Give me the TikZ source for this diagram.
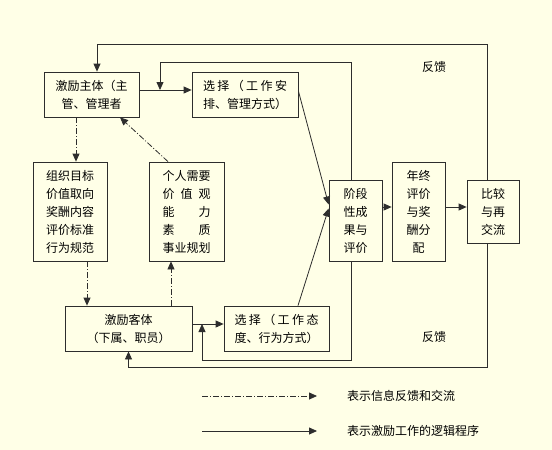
\documentclass[tikz,border=0pt]{standalone}
\usepackage{fontspec}
\newfontfamily\cjk{Noto Sans CJK SC}
\usetikzlibrary{arrows.meta,positioning}
\definecolor{paper}{RGB}{255,255,231}
\definecolor{ink}{RGB}{45,45,45}
\newcommand{\kai}[2]{\makebox[#1]{#2}}  % spread one line over a fixed width

\tikzset{
    box/.style={draw=ink, line width=0.8pt, inner sep=0pt, align=center,
        font=\cjk\fontsize{12}{18}\selectfont},
    lbl/.style={inner sep=0pt, font=\cjk\fontsize{12}{18}\selectfont},
    flow/.style={draw=ink, line width=0.8pt, -{Triangle[length=8pt,width=7pt]}},
    info/.style={flow, dash pattern=on 6pt off 2pt on 1pt off 2pt},
}

\begin{document}
\begin{tikzpicture}[x=1pt, y=-1pt]
    % Page and background
    \fill[paper] (0,0) rectangle (552,450);
    \useasboundingbox (0,0) rectangle (552,450);
    % Upper row
    \node[box, minimum width=95pt, minimum height=45pt] (zhuti) at (91.5,94.5)
        {激励主体（主\\管、管理者};
    \node[box, minimum width=106pt, minimum height=45pt] (anpai) at (245,94.5)
        {\kai{7em}{选\hfill 择\hfill （\hfill 工\hfill 作\hfill 安}\\排、管理方式）};
    % Middle row
    \node[box, minimum width=74pt, minimum height=99pt] (mubiao) at (70,211.5)
        {组织目标\\价值取向\\奖酬内容\\评价标准\\行为规范};
    \node[box, minimum width=75pt, minimum height=99pt] (xuqiu) at (186.5,211.5)
        {个人需要\\\kai{4em}{价\hfill 值\hfill 观}\\\kai{4em}{能\hfill 力}\\\kai{4em}{素\hfill 质}\\事业规划};
    % Lower row
    \node[box, minimum width=127pt, minimum height=45pt] (keti) at (128.5,328.5)
        {激励客体\\（下属、职员）};
    \node[box, minimum width=105pt, minimum height=45pt] (taidu) at (276.5,328.5)
        {\kai{7em}{选\hfill 择\hfill （\hfill 工\hfill 作\hfill 态}\\度、行为方式）};
    % Right column
    \node[box, minimum width=53pt, minimum height=81pt] (jieduan) at (355.5,220.5)
        {阶段\\性成\\果与\\评价};
    \node[box, minimum width=53pt, minimum height=99pt] (nianzhong) at (418.5,211.5)
        {年终\\评价\\与奖\\酬分\\配};
    \node[box, minimum width=52pt, minimum height=63pt] (bijiao) at (493,211.5)
        {比较\\与再\\交流};
    % Feedback labels
    \node[lbl] (fk1) at (434,67) {反馈};
    \node[lbl] (fk2) at (434,337) {反馈};

    % Main logic
    \draw[flow] ([yshift=4.5pt]zhuti.east) -- ([yshift=4.5pt]anpai.west);
    \draw[flow] ([yshift=4.5pt]keti.east) -- ([yshift=4.5pt]taidu.west);
    \draw[flow] ([yshift=3.5pt]anpai.east) -- ([yshift=16pt]jieduan.west);
    \draw[flow] ([xshift=21.5pt]taidu.north) -- ([yshift=12pt]jieduan.west);
    \draw[flow] ([yshift=13.5pt]jieduan.east) -- ([yshift=4.5pt]nianzhong.west);
    \draw[flow] ([yshift=4.5pt]nianzhong.east) -- ([yshift=4.5pt]bijiao.west);
    % Feedback loops
    \coordinate (fb2) at (160,90);
    \coordinate (fb3) at (202,324);
    \draw[flow] ([xshift=-6pt]bijiao.north) -- ++(0,-135) -| ([xshift=5.5pt]zhuti.north);
    \draw[flow] ([xshift=-6pt]bijiao.south) -- ++(0,124) -| (keti.south);
    \draw[flow] ([xshift=-4.5pt]jieduan.north) -- ++(0,-117) -| (fb2);
    \draw[flow] ([xshift=-4.5pt]jieduan.south) -- ++(0,99) -| (fb3);
    % Information exchange
    \draw[info] ([xshift=-15.5pt]zhuti.south) -- ([xshift=6pt]mubiao.north);
    \draw[info] ([xshift=17pt]mubiao.south) -- ([xshift=-41.5pt]keti.north);
    \draw[info] ([xshift=42.5pt]keti.north) -- ([xshift=-15.5pt]xuqiu.south);
    \draw[info] ([xshift=-18.5pt]xuqiu.north) -- ([xshift=28.5pt]zhuti.south);

    % Legend
    \node[lbl, anchor=west] (legtxt1) at (347,396) {表示信息反馈和交流};
    \node[lbl, anchor=west] (legtxt2) at (347,431) {表示激励工作的逻辑程序};
    \coordinate (leg1) at (202,396);
    \coordinate (leg2) at (202,431);
    \draw[info] (leg1) -- ([xshift=-30pt]legtxt1.west);
    \draw[flow] (leg2) -- ([xshift=-30pt]legtxt2.west);
\end{tikzpicture}
\end{document}
